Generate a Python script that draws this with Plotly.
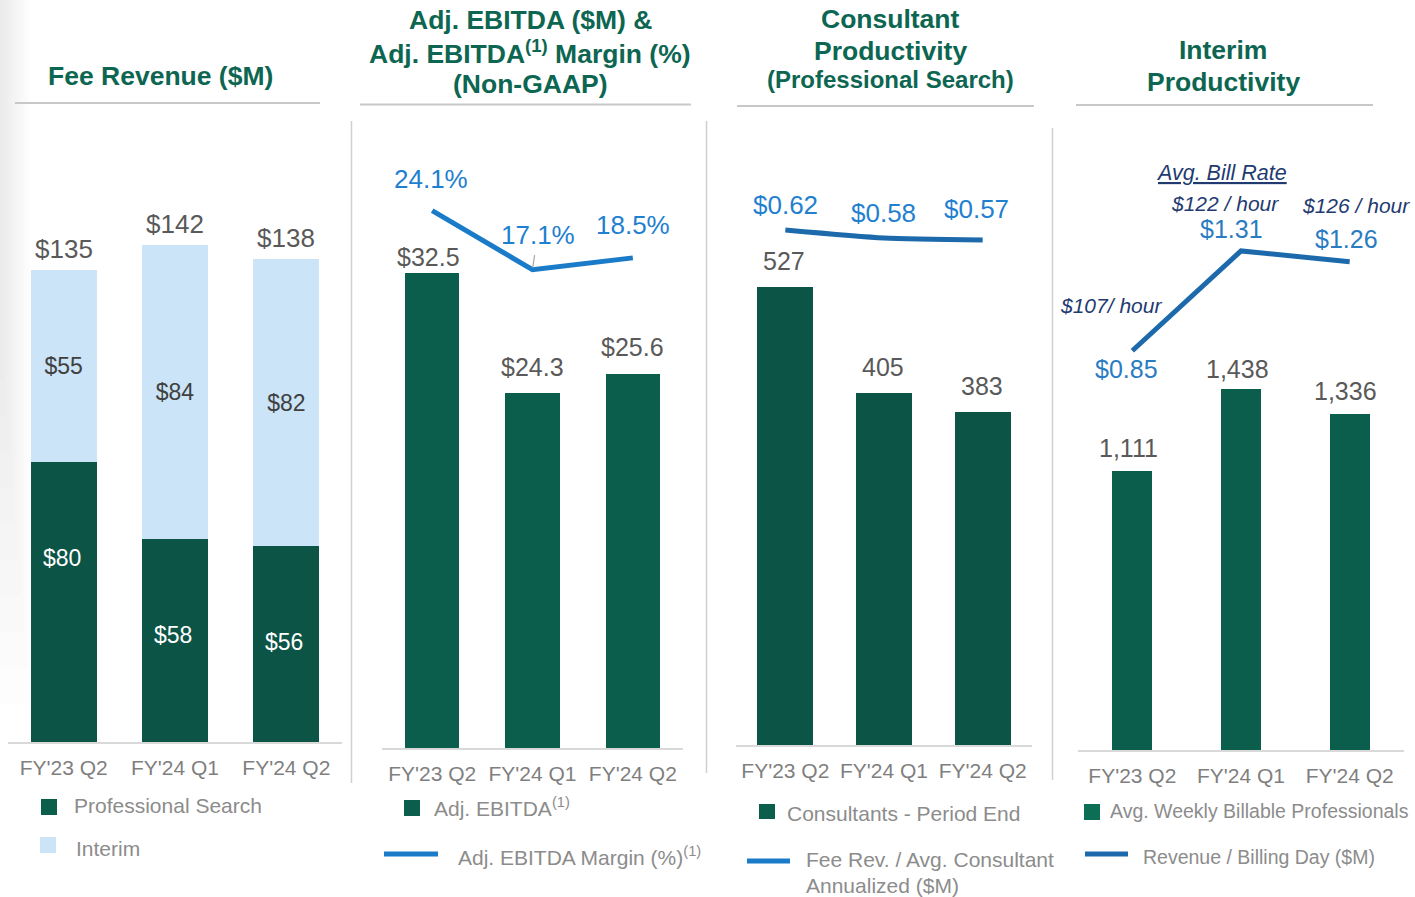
import plotly.graph_objects as go

W, H = 1415, 897
def px(x): return x / W
def py(y): return 1 - y / H

# ---------------- data ----------------
quarters = ["FY'23 Q2", "FY'24 Q1", "FY'24 Q2"]
fee_prof_search = [80, 58, 56]
fee_interim = [55, 84, 82]
fee_total = [135, 142, 138]
adj_ebitda = [32.5, 24.3, 25.6]
adj_ebitda_margin = [24.1, 17.1, 18.5]
consultants = [527, 405, 383]
fee_rev_per_consultant = [0.62, 0.58, 0.57]
billable_professionals = [1111, 1438, 1336]
revenue_per_billing_day = [0.85, 1.31, 1.26]
bill_rate_labels = ["$107/ hour", "$122 / hour", "$126 / hour"]

# ---------------- styles ----------------
FONT = "Liberation Sans, Arial, sans-serif"
GREEN = "#0b5e4c"
GREEN_G = "#0b5446"
LIGHTBLUE = "#cbe4f8"
TITLE_GREEN = "#0d6651"
VAL_GRAY = "#595959"
TICK_GRAY = "#7f7f7f"
LEG_GRAY = "#8c8c8c"
BLUE1 = "#1a7bc9"
BLUE_LBL = "#1f80d0"
BLUE2 = "#1c6aab"
BLUE2_LBL = "#2a7cc2"
NAVY = "#1f3b70"
AXIS_GRAY = "#d9d9d9"

fig = go.Figure()

# Panel 1 - stacked fee revenue
fig.add_trace(go.Bar(x=quarters, y=fee_prof_search, xaxis="x", yaxis="y", width=0.59,
                     marker=dict(color=GREEN_G, line=dict(width=0)), hoverinfo="skip"))
fig.add_trace(go.Bar(x=quarters, y=fee_interim, xaxis="x", yaxis="y", width=0.59,
                     marker=dict(color=LIGHTBLUE, line=dict(width=0)),
                     text=[f"${v}" for v in fee_interim], textposition="inside",
                     insidetextanchor="middle",
                     textfont=dict(color="#404040", size=23, family=FONT), hoverinfo="skip"))

# Panel 2 - Adj EBITDA bars + margin line
fig.add_trace(go.Bar(x=quarters, y=adj_ebitda, xaxis="x2", yaxis="y2", width=0.54,
                     marker=dict(color=GREEN, line=dict(width=0)), hoverinfo="skip"))
fig.add_trace(go.Scatter(x=quarters, y=adj_ebitda_margin, xaxis="x2", yaxis="y3", mode="lines",
                         line=dict(color=BLUE1, width=5), hoverinfo="skip"))

# Panel 3 - consultants + productivity line
fig.add_trace(go.Bar(x=quarters, y=consultants, xaxis="x3", yaxis="y4", width=0.57,
                     marker=dict(color=GREEN_G, line=dict(width=0)), hoverinfo="skip"))
fig.add_trace(go.Scatter(x=quarters, y=fee_rev_per_consultant, xaxis="x3", yaxis="y5", mode="lines",
                         line=dict(color=BLUE2, width=5, shape="spline", smoothing=0.6),
                         hoverinfo="skip"))

# Panel 4 - billable professionals + revenue/billing day
fig.add_trace(go.Bar(x=quarters, y=billable_professionals, xaxis="x4", yaxis="y6", width=0.37,
                     marker=dict(color=GREEN, line=dict(width=0)), hoverinfo="skip"))
fig.add_trace(go.Scatter(x=quarters, y=revenue_per_billing_day, xaxis="x4", yaxis="y7", mode="lines",
                         line=dict(color=BLUE2, width=5), hoverinfo="skip"))

# ---------------- axes ----------------
def xax(x0, x1, anchor):
    return dict(domain=[px(x0), px(x1)], type="category", range=[-0.5, 2.5], anchor=anchor,
                showline=True, linecolor=AXIS_GRAY, linewidth=2, ticks="", showgrid=False,
                zeroline=False, tickfont=dict(size=21, color=TICK_GRAY, family=FONT),
                ticklabelstandoff=6, fixedrange=True)

def yax(bot, top, rng, anchor, overlaying=None):
    d = dict(range=rng, anchor=anchor, visible=False, showgrid=False, zeroline=False,
             fixedrange=True)
    if overlaying:
        d["overlaying"] = overlaying
    else:
        d["domain"] = [py(bot), py(top)]
    return d

layout = dict(
    width=W, height=H, margin=dict(l=0, r=0, t=0, b=0),
    paper_bgcolor="white", plot_bgcolor="rgba(0,0,0,0)",
    barmode="stack", showlegend=False, font=dict(family=FONT),
    xaxis=xax(8, 342, "y"),
    yaxis=yax(742, 200, [0, 542 / 3.5], "x"),
    xaxis2=xax(382, 683, "y2"),
    yaxis2=yax(748, 160, [0, 588 / 14.62], "x2"),
    yaxis3=yax(748, 160, [-39.6, 30.1], "x2", overlaying="y2"),
    xaxis3=xax(736, 1032, "y4"),
    yaxis4=yax(745, 160, [0, 585 / 0.869], "x3"),
    yaxis5=yax(745, 160, [-1.955, 0.97], "x3", overlaying="y4"),
    xaxis4=xax(1078, 1404, "y6"),
    yaxis6=yax(750, 150, [0, 600 / 0.2513], "x4"),
    yaxis7=yax(750, 150, [-0.99, 1.775], "x4", overlaying="y6"),
)
fig.update_layout(**layout)

ann = []
def A(**kw):
    f = kw.pop("font", {})
    base = dict(showarrow=False, font=dict(family=FONT, **f))
    base.update(kw)
    ann.append(base)

# ---------------- titles ----------------
def title_line(text, x, y, size=26.5):
    A(text=text, x=px(x), y=py(y), xref="paper", yref="paper", xanchor="center", yanchor="middle",
      font=dict(size=size, color=TITLE_GREEN, weight="bold"))

title_line("Fee Revenue ($M)", 160, 76)
title_line("Adj. EBITDA ($M) &", 530, 20)
title_line("Adj. EBITDA<sup>(1)</sup> Margin (%)", 530, 52)
title_line("(Non-GAAP)", 530, 84)
title_line("Consultant", 890, 19)
title_line("Productivity", 890, 51)
title_line("(Professional Search)", 890, 80, size=24)
title_line("Interim", 1223, 50)
title_line("Productivity", 1223, 82)

# ---------------- value labels ----------------
for q, v in zip(quarters, fee_prof_search):
    A(text=f"${v}", x=q, y=v, xref="x", yref="y", yanchor="middle", yshift=-96, xshift=-2,
      font=dict(size=23, color="white"))

for q, v in zip(quarters, fee_total):
    A(text=f"${v}", x=q, y=v, xref="x", yref="y", yanchor="middle", yshift=21,
      font=dict(size=26, color=VAL_GRAY))

ebitda_shift = [16, 26, 27]
ebitda_xshift = [-4, 0, 0]
for q, v, s, xs in zip(quarters, adj_ebitda, ebitda_shift, ebitda_xshift):
    A(text=f"${v}", x=q, y=v, xref="x2", yref="y2", yanchor="middle", yshift=s, xshift=xs,
      font=dict(size=25, color=VAL_GRAY))

margin_shift = [32, 35, 33]
margin_xshift = [-1, 5, 0]
for i, (q, v, s, xs) in enumerate(zip(quarters, adj_ebitda_margin, margin_shift, margin_xshift)):
    if i == 1:
        A(text=f"{v}%", x=q, y=v, xref="x2", yref="y3", showarrow=True, arrowhead=0,
          arrowwidth=1.2, arrowcolor="#a6a6a6", ax=xs, ay=-s, standoff=2, startstandoff=4,
          font=dict(size=26, color=BLUE_LBL))
    else:
        A(text=f"{v}%", x=q, y=v, xref="x2", yref="y3", yanchor="middle", yshift=s, xshift=xs,
          font=dict(size=26, color=BLUE_LBL))

for q, v in zip(quarters, consultants):
    A(text=f"{v}", x=q, y=v, xref="x3", yref="y4", yanchor="middle", yshift=26, xshift=-1,
      font=dict(size=25, color=VAL_GRAY))

cons_shift = [25, 25, 31]
cons_xshift = [0, -1, -6]
for q, v, s, xs in zip(quarters, fee_rev_per_consultant, cons_shift, cons_xshift):
    A(text=f"${v:.2f}", x=q, y=v, xref="x3", yref="y5", yanchor="middle", yshift=s, xshift=xs,
      font=dict(size=26, color=BLUE_LBL))

bp_shift = [23, 20, 23]
for q, v, s in zip(quarters, billable_professionals, bp_shift):
    A(text=f"{v:,}", x=q, y=v, xref="x4", yref="y6", yanchor="middle", yshift=s, xshift=-4,
      font=dict(size=25, color=VAL_GRAY))

rb_shift = [-18, 22, 23]
rb_xshift = [-6, -10, -3]
for q, v, s, xs in zip(quarters, revenue_per_billing_day, rb_shift, rb_xshift):
    A(text=f"${v:.2f}", x=q, y=v, xref="x4", yref="y7", yanchor="middle", yshift=s, xshift=xs,
      font=dict(size=25, color=BLUE2_LBL))

br_shift = [45, 47, 56]
br_xshift = [-21, -16, 6]
for q, v, t, s, xs in zip(quarters, revenue_per_billing_day, bill_rate_labels, br_shift, br_xshift):
    A(text=f"<i>{t}</i>", x=q, y=v, xref="x4", yref="y7", yanchor="middle", yshift=s, xshift=xs,
      font=dict(size=21, color=NAVY))
A(text="<i><u>Avg. Bill Rate</u></i>", x=px(1221), y=py(173), xref="paper", yref="paper",
  xanchor="center", yanchor="middle", font=dict(size=21.5, color=NAVY))

# ---------------- legends ----------------
def leg_text(text, x, y, size=21):
    A(text=text, x=px(x), y=py(y), xref="paper", yref="paper", xanchor="left", yanchor="middle",
      font=dict(size=size, color=LEG_GRAY))

shapes = []
def rect(x0, y0, x1, y1, color, opacity=1, layer="above"):
    shapes.append(dict(type="rect", xref="paper", yref="paper", x0=px(x0), x1=px(x1),
                       y0=py(y1), y1=py(y0), fillcolor=color, line=dict(width=0),
                       opacity=opacity, layer=layer))
def hline(x0, x1, y, color, width):
    shapes.append(dict(type="line", xref="paper", yref="paper", x0=px(x0), x1=px(x1),
                       y0=py(y), y1=py(y), line=dict(color=color, width=width)))
def vline(x, y0, y1, color, width):
    shapes.append(dict(type="line", xref="paper", yref="paper", x0=px(x), x1=px(x),
                       y0=py(y0), y1=py(y1), line=dict(color=color, width=width)))

rect(41, 799, 57, 815, GREEN)
leg_text("Professional Search", 72, 805)
rect(40, 837, 56, 853, LIGHTBLUE)
leg_text("Interim", 74, 848)

rect(404, 800, 420, 816, GREEN)
leg_text("Adj. EBITDA<sup>(1)</sup>", 432, 807)
hline(384, 438, 854, BLUE1, 5)
leg_text("Adj. EBITDA Margin (%)<sup>(1)</sup>", 456, 856)

rect(759, 804, 775, 819, GREEN)
leg_text("Consultants - Period End", 785, 813)
hline(747, 790, 861, BLUE1, 5)
leg_text("Fee Rev. / Avg. Consultant", 804, 859)
leg_text("Annualized ($M)", 804, 885)

rect(1084, 804, 1100, 820, "#0d6e56")
leg_text("Avg. Weekly Billable Professionals", 1108, 811, size=19.5)
hline(1085, 1128, 854, BLUE2, 5)
leg_text("Revenue / Billing Day ($M)", 1141, 857, size=19.5)

# title underlines and separators
hline(15, 320, 103, "#c8c8c8", 2)
hline(360, 691, 104.5, "#c8c8c8", 2)
hline(737, 1034, 106, "#c8c8c8", 2)
hline(1076, 1373, 105, "#c8c8c8", 2)
vline(351.5, 121, 783, "#d0d0d0", 1.5)
vline(706.5, 121, 773, "#d0d0d0", 1.5)
vline(1052.5, 128, 780, "#d0d0d0", 1.5)

# left page shadow (soft, fading right and downward)
for i, w in enumerate(range(3, 33, 3)):
    rect(0, 0, w, 380 + 36 * i, "#9a9a9a", opacity=0.018, layer="below")

fig.update_layout(annotations=ann, shapes=shapes)
fig.write_html("out.html", post_script="document.body.style.margin='0';",
               config={"displayModeBar": False})
